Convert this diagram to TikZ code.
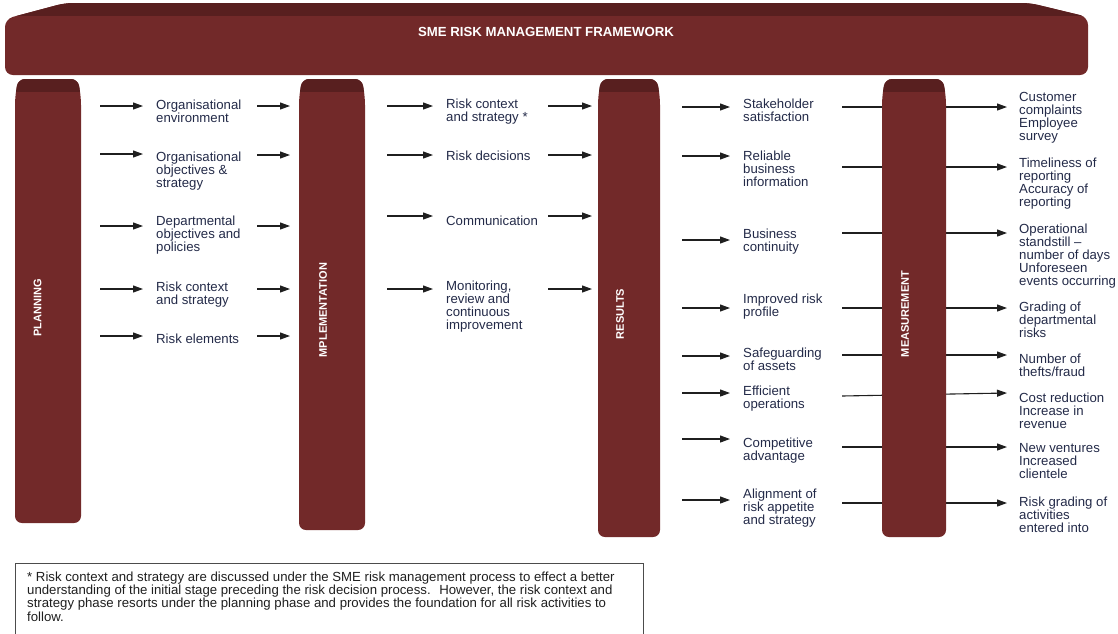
\documentclass[tikz,border=0pt]{standalone}
\usepackage{fontspec}
\setmainfont{Liberation Sans}
\usetikzlibrary{arrows.meta}
\definecolor{bodycol}{RGB}{114,41,41}
\definecolor{capcol}{RGB}{88,31,31}
\definecolor{txtcol}{RGB}{35,42,72}
\newcommand\pillarshape[3]{(#1+3,79) -- (#1,98) -- (#1,#3) -- (#2,#3) -- (#2,98) -- (#2-3,79) -- cycle}
\newcommand\drawpillar[3]{%
  \fill[bodycol, rounded corners=7pt] \pillarshape{#1}{#2}{#3};
  \begin{scope}
    \clip[rounded corners=7pt] \pillarshape{#1}{#2}{#3};
    \fill[capcol] (#1-5,70) rectangle (#2+5,92);
  \end{scope}}
\newcommand\conn[6]{%
  \coordinate (#1s) at (#2,#3);
  \coordinate (#1e) at (#4,#5);
  \draw[arr,#6] (#1s) -- (#1e);}
\begin{document}
\begin{tikzpicture}[x=1pt,y=-1pt,
  lbl/.style={anchor=north west, yshift=9.6pt, inner sep=0pt, align=left, text=txtcol,
    font=\fontsize{13.2}{13}\selectfont},
  arr/.style={-{Triangle[length=10pt,width=7pt]}, line width=1.1pt, draw=black!88},
  plabel/.style={rotate=90, text=white, inner sep=0pt,
    font=\bfseries\fontsize{11}{11}\selectfont}]
\useasboundingbox (0,0) rectangle (1118,633);

% banner
\fill[bodycol, rounded corners=8pt] (5,45) -- (5,19) -- (65,3) -- (1030,3) -- (1088,17) -- (1088,75) -- (5,75) -- cycle;
\begin{scope}
  \clip[rounded corners=8pt] (5,45) -- (5,19) -- (65,3) -- (1030,3) -- (1088,17) -- (1088,75) -- (5,75) -- cycle;
  \fill[capcol] (0,0) rectangle (1100,16);
\end{scope}
\node[text=white, font=\bfseries\fontsize{13.2}{13}\selectfont] (title) at (546,32) {SME RISK MANAGEMENT FRAMEWORK};

% measurement through-lines (drawn before pillar)
\conn{o1}{842}{107}{1007}{107}{}
\conn{o2}{842}{167}{1007}{167}{}
\conn{o3}{842}{233}{1007}{233}{}
\conn{o4}{842}{308}{1007}{308}{}
\conn{o5}{842}{355}{1007}{355}{}
\conn{o6}{842}{396}{1007}{393}{}
\conn{o7}{842}{447}{1007}{447}{}
\conn{o8}{842}{503}{1007}{503}{}

% pillars
\drawpillar{15}{81}{523}
\drawpillar{299}{365}{530}
\drawpillar{598}{660}{537}
\drawpillar{882}{946}{537}
\node[plabel] (planning) at (37.5,308) {PLANNING};
\node[plabel] (implementation) at (323,310) {MPLEMENTATION};
\node[plabel] (results) at (620,314) {RESULTS};
\node[plabel] (measurement) at (905,314) {MEASUREMENT};

% planning column
\node[lbl] (p1) at (156,109) {Organisational\\environment};
\node[lbl] (p2) at (156,161) {Organisational\\objectives \&\\strategy};
\node[lbl] (p3) at (156,225) {Departmental\\objectives and\\policies};
\node[lbl] (p4) at (156,291) {Risk context\\and strategy};
\node[lbl] (p5) at (156,343) {Risk elements};
\conn{pa1}{100}{106}{143}{106}{}
\conn{pa2}{100}{154}{143}{154}{}
\conn{pa3}{100}{226}{143}{226}{}
\conn{pa4}{100}{289}{143}{289}{}
\conn{pa5}{100}{336}{143}{336}{}
\conn{pb1}{257}{106}{290}{106}{}
\conn{pb2}{257}{155}{290}{155}{}
\conn{pb3}{257}{226}{290}{226}{}
\conn{pb4}{257}{289}{290}{289}{}
\conn{pb5}{257}{336}{290}{336}{}

% implementation column
\node[lbl] (m1) at (446,108) {Risk context\\and strategy *};
\node[lbl] (m2) at (446,160) {Risk decisions};
\node[lbl] (m3) at (446,225) {Communication};
\node[lbl] (m4) at (446,290) {Monitoring,\\review and\\continuous\\improvement};
\conn{ma1}{387}{106}{433}{106}{}
\conn{ma2}{387}{155}{433}{155}{}
\conn{ma3}{387}{216}{433}{216}{}
\conn{ma4}{387}{289}{433}{289}{}
\conn{mb1}{548}{106}{592}{106}{}
\conn{mb2}{548}{155}{592}{155}{}
\conn{mb3}{548}{216}{592}{216}{}
\conn{mb4}{548}{289}{592}{289}{}

% results column
\node[lbl] (r1) at (743,108) {Stakeholder\\satisfaction};
\node[lbl] (r2) at (743,160) {Reliable\\business\\information};
\node[lbl] (r3) at (743,238) {Business\\continuity};
\node[lbl] (r4) at (743,303) {Improved risk\\profile};
\node[lbl] (r5) at (743,357) {Safeguarding\\of assets};
\node[lbl] (r6) at (743,395) {Efficient\\operations};
\node[lbl] (r7) at (743,447) {Competitive\\advantage};
\node[lbl] (r8) at (743,498) {Alignment of\\risk appetite\\and strategy};
\conn{ra1}{682}{107}{730}{107}{}
\conn{ra2}{682}{156}{730}{156}{}
\conn{ra3}{682}{240}{730}{240}{}
\conn{ra4}{682}{308}{730}{308}{}
\conn{ra5}{682}{356}{730}{356}{}
\conn{ra6}{682}{393}{730}{393}{}
\conn{ra7}{682}{439}{730}{439}{}
\conn{ra8}{682}{500}{730}{500}{}

% measurement column
\node[lbl] (s1) at (1019,102) {Customer\\complaints\\Employee\\survey};
\node[lbl] (s2) at (1019,167) {Timeliness of\\reporting\\Accuracy of\\reporting};
\node[lbl] (s3) at (1019,233) {Operational\\standstill --\\number of days\\Unforeseen\\events occurring};
\node[lbl] (s4) at (1019,311) {Grading of\\departmental\\risks};
\node[lbl] (s5) at (1019,363) {Number of\\thefts/fraud};
\node[lbl] (s6) at (1019,402) {Cost reduction\\Increase in\\revenue};
\node[lbl] (s7) at (1019,453) {New ventures\\Increased\\clientele};
\node[lbl] (s8) at (1019,506) {Risk grading of\\activities\\entered into};

% footnote
\draw[black!70, line width=0.9pt] (15,563) rectangle (643,660);
\node[anchor=north west, yshift=9.6pt, inner sep=0pt, align=left, text=black!88,
  font=\fontsize{13.2}{13.3}\selectfont] (note) at (27,581)
  {* Risk context and strategy are discussed under the SME risk management process to effect a better\\
   understanding of the initial stage preceding the risk decision process.~ However, the risk context and\\
   strategy phase resorts under the planning phase and provides the foundation for all risk activities to\\
   follow.};
\end{tikzpicture}
\end{document}
